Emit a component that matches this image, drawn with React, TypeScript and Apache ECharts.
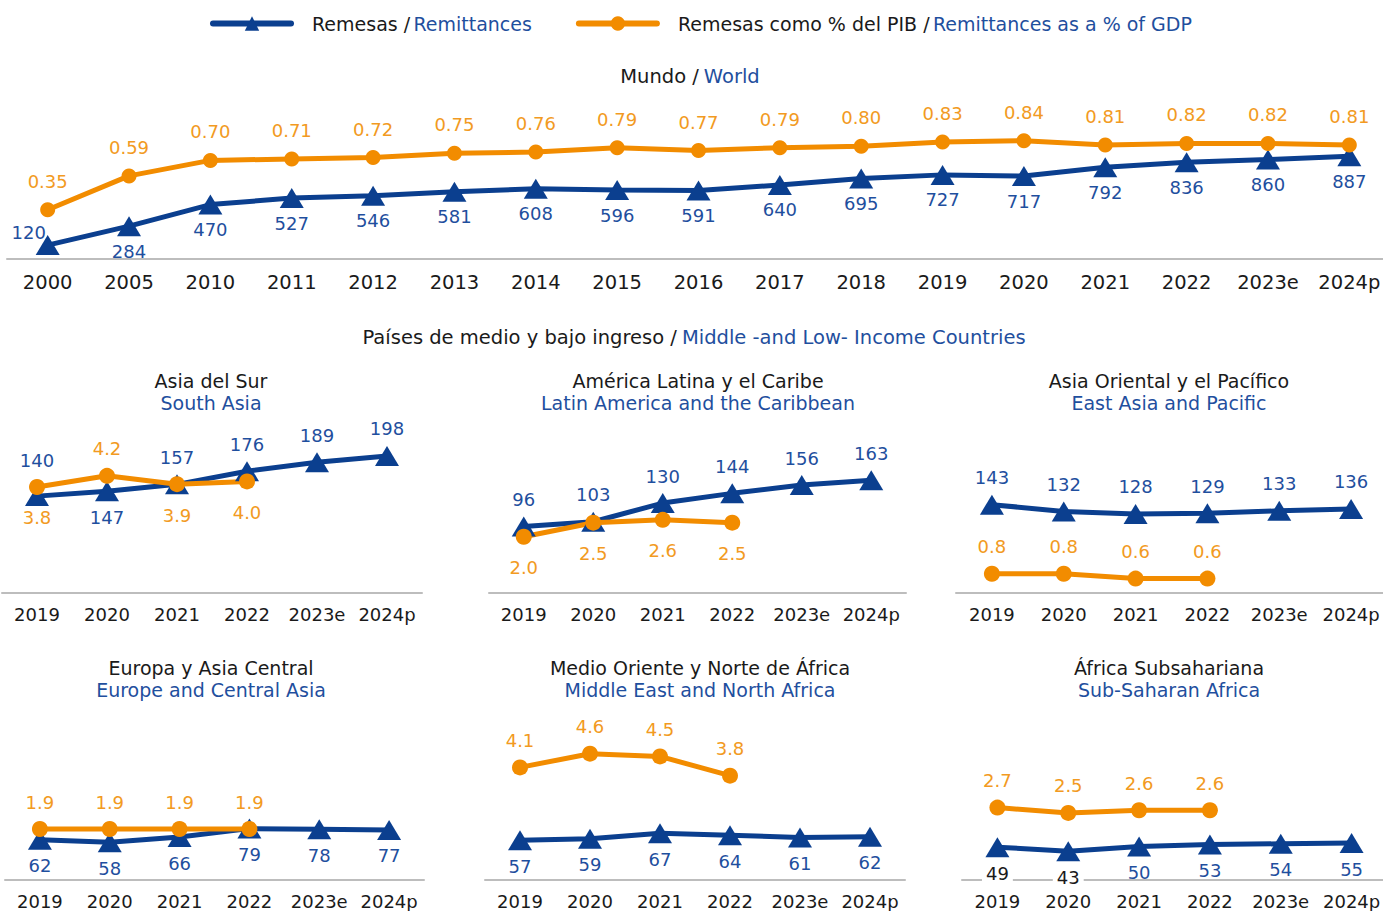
import React, { useEffect, useRef } from 'react';
import * as echarts from 'echarts';

const REMIT = 'Remesas / Remittances';
const PCT = 'Remesas como % del PIB / Remittances as a % of GDP';

const worldYears = ['2000', '2005', '2010', '2011', '2012', '2013', '2014', '2015', '2016', '2017', '2018', '2019', '2020', '2021', '2022', '2023e', '2024p'];
const worldRemittances = [120, 284, 470, 527, 546, 581, 608, 596, 591, 640, 695, 727, 717, 792, 836, 860, 887];
const worldPctGdp = [0.35, 0.59, 0.70, 0.71, 0.72, 0.75, 0.76, 0.79, 0.77, 0.79, 0.80, 0.83, 0.84, 0.81, 0.82, 0.82, 0.81];

const regionYears = ['2019', '2020', '2021', '2022', '2023e', '2024p'];
const southAsiaRemittances = [140, 147, 157, 176, 189, 198];
const southAsiaPctGdp = [3.8, 4.2, 3.9, 4.0];
const latinAmericaRemittances = [96, 103, 130, 144, 156, 163];
const latinAmericaPctGdp = [2.0, 2.5, 2.6, 2.5];
const eastAsiaRemittances = [143, 132, 128, 129, 133, 136];
const eastAsiaPctGdp = [0.8, 0.8, 0.6, 0.6];
const europeAsiaRemittances = [62, 58, 66, 79, 78, 77];
const europeAsiaPctGdp = [1.9, 1.9, 1.9, 1.9];
const menaRemittances = [57, 59, 67, 64, 61, 62];
const menaPctGdp = [4.1, 4.6, 4.5, 3.8];
const ssaRemittances = [49, 43, 50, 53, 54, 55];
const ssaPctGdp = [2.7, 2.5, 2.6, 2.6];

const FONT = 'DejaVu Sans';
const BLACK = '#1a1a1a';
const BLUE_TXT = '#1f4f9e';
const BLUE = '#0b3f8f';
const ORANGE = '#f28c00';
const ORANGE_TXT = '#f29a22';
const AXIS = '#bdbdbd';

type Panel = {
  es: string; en: string; remit: number[]; pct: number[];
  cx: number; left: number; width: number; top: number;
  remitMax: number; pctMax: number;
  remitPos: string[]; pctPos: string[]; darkIdx?: number[];
};

const panels: Panel[] = [
  { es: 'Asia del Sur', en: 'South Asia', remit: southAsiaRemittances, pct: southAsiaPctGdp, cx: 211, left: 2, width: 420, top: 420, remitMax: 250, pctMax: 6.2, remitPos: ['top', 'bottom', 'top', 'top', 'top', 'top'], pctPos: ['bottom', 'top', 'bottom', 'bottom'] },
  { es: 'América Latina y el Caribe', en: 'Latin America and the Caribbean', remit: latinAmericaRemittances, pct: latinAmericaPctGdp, cx: 698, left: 489, width: 417, top: 420, remitMax: 250, pctMax: 6.15, remitPos: ['top', 'top', 'top', 'top', 'top', 'top'], pctPos: ['bottom', 'bottom', 'bottom', 'bottom'] },
  { es: 'Asia Oriental y el Pacífico', en: 'East Asia and Pacific', remit: eastAsiaRemittances, pct: eastAsiaPctGdp, cx: 1169, left: 956, width: 431, top: 420, remitMax: 280, pctMax: 7.2, remitPos: ['top', 'top', 'top', 'top', 'top', 'top'], pctPos: ['top', 'top', 'top', 'top'] },
  { es: 'Europa y Asia Central', en: 'Europe and Central Asia', remit: europeAsiaRemittances, pct: europeAsiaPctGdp, cx: 211, left: 5, width: 419, top: 707, remitMax: 266, pctMax: 6.45, remitPos: ['bottom', 'bottom', 'bottom', 'bottom', 'bottom', 'bottom'], pctPos: ['top', 'top', 'top', 'top'] },
  { es: 'Medio Oriente y Norte de África', en: 'Middle East and North Africa', remit: menaRemittances, pct: menaPctGdp, cx: 700, left: 485, width: 420, top: 707, remitMax: 248, pctMax: 6.3, remitPos: ['bottom', 'bottom', 'bottom', 'bottom', 'bottom', 'bottom'], pctPos: ['top', 'top', 'top', 'top'] },
  { es: 'África Subsahariana', en: 'Sub-Saharan Africa', remit: ssaRemittances, pct: ssaPctGdp, cx: 1169, left: 962, width: 425, top: 707, remitMax: 258, pctMax: 6.45, remitPos: ['bottom', 'bottom', 'bottom', 'bottom', 'bottom', 'bottom'], pctPos: ['top', 'top', 'top', 'top'], darkIdx: [0, 1] },
];

function buildOption() {
  const grids: any[] = [];
  const xAxes: any[] = [];
  const yAxes: any[] = [];
  const series: any[] = [];
  const titles: any[] = [];

  const xAxisBase = (gridIndex: number, data: string[], size: number, margin: number) => ({
    type: 'category', gridIndex, data, boundaryGap: true,
    axisLine: { show: true, lineStyle: { color: AXIS, width: 2 } },
    axisTick: { show: false },
    axisLabel: { color: BLACK, fontSize: size, fontFamily: FONT, margin, interval: 0 },
    splitLine: { show: false },
  });
  const yAxisBase = (gridIndex: number, max: number) => ({
    type: 'value', gridIndex, min: 0, max, show: false, splitLine: { show: false },
  });

  // World chart
  grids.push({ left: 7, top: 97, width: 1383, height: 162 });
  xAxes.push(xAxisBase(0, worldYears, 19.5, 13));
  yAxes.push(yAxisBase(0, 1400));
  yAxes.push(yAxisBase(0, 1.15));
  series.push({
    type: 'line', name: REMIT, xAxisIndex: 0, yAxisIndex: 0,
    data: worldRemittances.map((v, i) => i === 0
      ? { value: v, label: { position: 'top', offset: [-19, 12] } }
      : v),
    symbol: 'triangle', symbolSize: [24, 20],
    lineStyle: { color: BLUE, width: 5 }, itemStyle: { color: BLUE },
    label: { show: true, position: 'bottom', distance: 6, color: BLUE_TXT, fontSize: 18, fontFamily: FONT },
  });
  series.push({
    type: 'line', name: PCT, xAxisIndex: 0, yAxisIndex: 1,
    data: worldPctGdp,
    symbol: 'circle', symbolSize: 15,
    lineStyle: { color: ORANGE, width: 5 }, itemStyle: { color: ORANGE },
    label: { show: true, position: 'top', distance: 12, color: ORANGE_TXT, fontSize: 18, fontFamily: FONT, formatter: (p: any) => Number(p.value).toFixed(2) },
  });

  panels.forEach((p, k) => {
    const gi = k + 1;
    grids.push({ left: p.left, top: p.top, width: p.width, height: 173 });
    xAxes.push(xAxisBase(gi, regionYears, 18, 12));
    yAxes.push(yAxisBase(gi, p.remitMax));
    yAxes.push(yAxisBase(gi, p.pctMax));
    series.push({
      type: 'line', name: REMIT, xAxisIndex: gi, yAxisIndex: 2 * gi,
      data: p.remit.map((v, i) => {
        const dark = p.darkIdx && p.darkIdx.includes(i);
        return {
          value: v,
          label: {
            position: p.remitPos[i],
            distance: p.remitPos[i] === 'top' ? (k === 0 && i === 0 ? 17 : 8) : 7,
            ...(dark ? { color: BLACK, backgroundColor: '#ffffff', padding: [0, 4] } : {}),
          },
        };
      }),
      symbol: 'triangle', symbolSize: [24, 20],
      lineStyle: { color: BLUE, width: 5 }, itemStyle: { color: BLUE },
      label: { show: true, color: BLUE_TXT, fontSize: 18, fontFamily: FONT },
    });
    series.push({
      type: 'line', name: PCT, xAxisIndex: gi, yAxisIndex: 2 * gi + 1,
      data: p.pct.map((v, i) => ({
        value: v,
        label: { position: p.pctPos[i], distance: p.pctPos[i] === 'top' ? 10 : 14 },
      })),
      symbol: 'circle', symbolSize: 16,
      lineStyle: { color: ORANGE, width: 5 }, itemStyle: { color: ORANGE },
      label: { show: true, color: ORANGE_TXT, fontSize: 18, fontFamily: FONT, formatter: (q: any) => Number(q.value).toFixed(1) },
    });
    titles.push({
      text: p.es, subtext: p.en, left: p.cx, top: p.top - 50, textAlign: 'center', itemGap: 0, padding: 0,
      textStyle: { color: BLACK, fontSize: 19, fontWeight: 'normal', fontFamily: FONT, lineHeight: 22 },
      subtextStyle: { color: BLUE_TXT, fontSize: 19, fontFamily: FONT, lineHeight: 22 },
    });
  });

  const rich = {
    k: { color: BLACK, fontSize: 19.5, fontFamily: FONT, fontWeight: 'normal' },
    b: { color: BLUE_TXT, fontSize: 19.5, fontFamily: FONT, fontWeight: 'normal' },
  };
  const legendRich = {
    k: { color: BLACK, fontSize: 19, fontFamily: FONT, fontWeight: 'normal' },
    b: { color: BLUE_TXT, fontSize: 19, fontFamily: FONT, fontWeight: 'normal' },
  };
  titles.push({
    text: '{k|Mundo /} {b|World}', left: 690, top: 66, textAlign: 'center', padding: 0,
    textStyle: { rich, fontWeight: 'normal' },
  });
  titles.push({
    text: '{k|Países de medio y bajo ingreso /} {b|Middle -and Low- Income Countries}', left: 694, top: 327, textAlign: 'center', padding: 0,
    textStyle: { rich, fontWeight: 'normal' },
  });

  return {
    animation: false,
    backgroundColor: '#ffffff',
    title: titles,
    legend: {
      data: [REMIT, PCT],
      left: 210, top: 14, padding: 0,
      itemWidth: 78, itemHeight: 18, itemGap: 44,
      lineStyle: { width: 6, cap: 'round' },
      textStyle: { padding: [0, 0, 0, 16], rich: legendRich },
      formatter: (name: string) => {
        const parts = name.split(' / ');
        return `{k|${parts[0]} /} {b|${parts[1]}}`;
      },
    },
    grid: grids,
    xAxis: xAxes,
    yAxis: yAxes,
    series,
  };
}

export default function App() {
  const ref = useRef<HTMLDivElement>(null);
  useEffect(() => {
    document.body.style.margin = '0';
    if (!ref.current) return;
    const chart = echarts.init(ref.current, undefined, { renderer: 'svg' });
    chart.setOption(buildOption() as any);
    return () => chart.dispose();
  }, []);
  return (
    <div style={{ position: 'absolute', left: 0, top: 0, width: 1383, height: 911, overflow: 'hidden' }}>
      <div ref={ref} style={{ width: 1400, height: 911 }} />
    </div>
  );
}
